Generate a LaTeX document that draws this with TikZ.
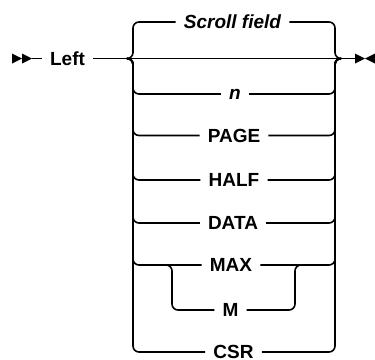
\documentclass[tikz,border=0pt]{standalone}
\usepackage{fontspec}
\setmainfont{Liberation Sans}
\begin{document}
\begin{tikzpicture}[x=1bp,y=-1bp,
  rail/.style={line width=1.6bp, rounded corners=6bp},
  tip/.style={fill=black},
  lbl/.style={inner xsep=8bp, inner ysep=0pt, text height=13.6bp, text depth=0pt,
    font=\fontsize{19bp}{23bp}\selectfont\bfseries},
  lblx/.style={lbl, text height=10.1bp}]
\useasboundingbox (0,0) rectangle (375,360);
% main line geometry
\coordinate (s0) at (12,58.5);
\coordinate (s1) at (32,58.5);
\coordinate (jl) at (127,58.5);
\coordinate (vl) at (133,58.5);
\coordinate (vr) at (335,58.5);
\coordinate (jr) at (341,58.5);
\coordinate (e0) at (355,58.5);
\node[lbl] (left) at (67.5,58.5) {Left};
% labels
\node[lbl] (scroll) at (232.5,22) {\itshape Scroll field};
\node[lblx] (n) at (235,94) {\itshape n};
\node[lbl] (page) at (234,135.5) {PAGE};
\node[lbl] (half) at (234,180) {HALF};
\node[lbl] (data) at (233,223) {DATA};
\node[lbl] (max) at (231,265) {MAX};
\node[lbl] (m) at (230.5,310) {M};
\node[lbl] (csr) at (233.5,352) {CSR};
% sub-branch coordinates
\coordinate (ml) at (166,265);
\coordinate (mvl) at (172,265);
\coordinate (mvr) at (295,265);
\coordinate (mr) at (301,265);
% start and end marks
\fill[tip] (12,53.5) -- (22,58.5) -- (12,63.5) -- cycle;
\fill[tip] (22,53.5) -- (32,58.5) -- (22,63.5) -- cycle;
\fill[tip] (355,53.5) -- (365,58.5) -- (355,63.5) -- cycle;
\fill[tip] (375,53.5) -- (365,58.5) -- (375,63.5) -- cycle;
% main line
\draw[rail] (s1) -- (left.west);
\draw[rail] (left.east) -- (jl) -- (jr) -- (e0);
% branches
\foreach \b in {scroll,n,page,half,data,max,csr}{
  \draw[rail] (jl) -- (vl) |- (\b.west);
  \draw[rail] (\b.east) -| (vr) -- (jr);
}
% MAX / M sub-branch
\draw[rail] (ml) -- (mvl) |- (m.west);
\draw[rail] (m.east) -| (mvr) -- (mr);
\end{tikzpicture}
\end{document}
